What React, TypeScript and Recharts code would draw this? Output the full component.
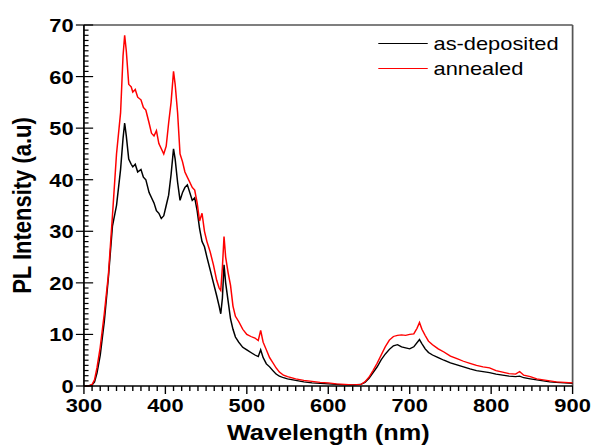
import { LineChart, Line, XAxis, YAxis, Legend, ReferenceLine } from 'recharts';

// PL spectra (nm, a.u.)
const wavelength = [
  300, 305, 310, 313, 316, 320, 325, 330, 335, 340, 345, 348, 350, 352, 355, 358, 360, 363, 366, 370,
  373, 376, 380, 383, 386, 389, 392, 395, 398, 401, 404, 407, 410, 412, 415, 418, 421, 424, 427, 430,
  433, 436, 439, 442, 445, 448, 451, 455, 459, 463, 466, 468, 470, 472, 474, 477, 480, 483, 486, 490,
  495, 500, 505, 510, 514, 517, 520, 524, 528, 532, 536, 540, 545, 550, 560, 570, 580, 590, 600, 610,
  620, 630, 640, 645, 650, 655, 660, 665, 670, 675, 680, 685, 690, 695, 700, 705, 709, 712, 715, 719,
  723, 728, 735, 742, 750, 758, 766, 774, 782, 790, 798, 806, 814, 822, 830, 835, 840, 848, 856, 864,
  872, 880, 890, 900,
];

const asDeposited = [
  0, 0, 0.2, 0.8, 2.5, 6, 12.5, 21, 31, 35, 42, 48, 51, 48.5, 44, 43, 42.5, 43, 41.5, 42,
  40.5, 40, 37.5, 36.5, 35.5, 34, 33.5, 32.5, 33, 35, 37, 41, 46, 44, 39.5, 36, 37.5, 38.5, 39, 37.5,
  36, 36.5, 34, 30.5, 28, 27, 25, 22.5, 20, 17.5, 15.5, 14, 17, 23.5, 20, 16.5, 13, 11, 9.5, 8.5,
  7.5, 7, 6.5, 6, 5.7, 7, 5.5, 4.3, 3.7, 3, 2.3, 1.9, 1.6, 1.4, 1.1, 0.8, 0.6, 0.5, 0.4, 0.3,
  0.2, 0.2, 0.3, 0.7, 1.5, 2.6, 3.7, 5.1, 6.2, 7.1, 7.8, 8, 7.6, 7.4, 7.2, 7.6, 8.4, 9, 8.2, 7.2,
  6.5, 6, 5.5, 5, 4.5, 4.1, 3.7, 3.3, 3, 2.8, 2.6, 2.3, 2.1, 1.9, 1.8, 1.9, 1.6, 1.4, 1.2, 1,
  0.8, 0.7, 0.6, 0.5,
];

const annealed = [
  0, 0, 0.3, 1.2, 3.5, 7.5, 14, 21.5, 33, 45, 53, 64, 68, 65, 58.5, 58, 57, 57.5, 56, 55.5,
  54, 53.5, 51, 49, 48.5, 49.5, 47, 46, 45, 46.5, 51, 55, 61, 58.5, 53, 45, 43.5, 41.5, 40.5, 39.5,
  38.5, 38, 35.5, 32, 33.5, 30, 28, 26, 23.5, 20.5, 19, 18.5, 23, 29, 25, 22, 19.5, 15.5, 13.5, 12.5,
  11, 10, 9.6, 9.3, 8.8, 10.8, 8.5, 7, 5.5, 4.5, 3.5, 2.7, 2.1, 1.8, 1.4, 1.1, 0.9, 0.7, 0.6, 0.4,
  0.3, 0.2, 0.3, 0.8, 1.7, 3, 4.4, 6, 7.6, 8.9, 9.6, 9.8, 9.9, 9.8, 10, 10.1, 11.2, 12.3, 11, 9.8,
  8.7, 8, 7.2, 6.6, 5.8, 5.3, 4.8, 4.4, 4, 3.7, 3.5, 3, 2.7, 2.4, 2.3, 2.8, 2.1, 1.8, 1.4, 1.2,
  1, 0.8, 0.7, 0.6,
];

const seriesNames = ['as-deposited', 'annealed'];
const xMajor = [300, 400, 500, 600, 700, 800, 900];
const yMajor = [0, 10, 20, 30, 40, 50, 60, 70];
const xTicks = Array.from({ length: 61 }, (_, i) => 300 + i * 10);
const yTicks = Array.from({ length: 71 }, (_, i) => i);

const data = wavelength.map((wl, i) => ({
  wl,
  asDeposited: asDeposited[i],
  annealed: annealed[i],
}));

const font = 'Arial, "Liberation Sans", sans-serif';

const XTick = ({ x, y, payload }: any) => {
  const major = xMajor.includes(payload.value);
  return (
    <g>
      <line x1={x} x2={x} y1={y} y2={y + (major ? 8 : 5)} stroke="#000" strokeWidth={1.2} />
      {major && (
        <text x={x} y={y + 26} textAnchor="middle" fontFamily={font} fontWeight="bold" fontSize={19} fill="#000">
          {payload.value}
        </text>
      )}
    </g>
  );
};

const YTick = ({ x, y, payload }: any) => {
  const major = yMajor.includes(payload.value);
  return (
    <g>
      <line x1={major ? x - 7 : x} x2={major ? x + 8 : x + 4} y1={y} y2={y} stroke="#000" strokeWidth={1.2} />
      {major && (
        <text x={x - 9} y={y + 7} textAnchor="end" fontFamily={font} fontWeight="bold" fontSize={19} fill="#000">
          {payload.value}
        </text>
      )}
    </g>
  );
};

const renderLegend = ({ payload }: any) => {
  const items = [...(payload || [])].sort(
    (a: any, b: any) => seriesNames.indexOf(a.value) - seriesNames.indexOf(b.value)
  );
  return (
    <div>
      {items.map((p: any) => (
        <div key={p.value} style={{ display: 'flex', alignItems: 'center', height: 25 }}>
          <span style={{ display: 'inline-block', width: 43, borderTop: `1.3px solid ${p.color}`, marginRight: 5 }} />
          <span style={{ fontFamily: font, fontSize: 19, color: '#000' }}>{p.value}</span>
        </div>
      ))}
    </div>
  );
};

export default function App() {
  return (
    <div style={{ position: 'absolute', left: 0, top: 0, transform: `scaleX(${591 / 514})`, transformOrigin: '0 0' }}>
      <LineChart width={514} height={446} data={data} margin={{ top: 25, right: 16, bottom: 0, left: 0 }}>
        <XAxis
          dataKey="wl"
          type="number"
          domain={[300, 900]}
          ticks={xTicks}
          interval={0}
          height={60}
          tickLine={false}
          tickSize={0}
          tickMargin={0}
          tick={XTick}
          axisLine={{ stroke: '#000', strokeWidth: 1.5 }}
          label={{
            value: 'Wavelength (nm)',
            position: 'insideBottom',
            offset: 6,
            style: { fontFamily: font, fontWeight: 'bold', fontSize: 22, fill: '#000' },
          }}
        />
        <YAxis
          type="number"
          domain={[0, 70]}
          ticks={yTicks}
          interval={0}
          width={73}
          tickLine={false}
          tickSize={0}
          tickMargin={0}
          tick={YTick}
          axisLine={{ stroke: '#000', strokeWidth: 1.5 }}
          label={{
            value: 'PL Intensity (a.u)',
            angle: -90,
            position: 'insideLeft',
            offset: 19,
            style: { textAnchor: 'middle', fontFamily: font, fontWeight: 'bold', fontSize: 22, fill: '#000' },
          }}
        />
        <ReferenceLine y={70} stroke="#555" strokeWidth={1.5} />
        <ReferenceLine x={900} stroke="#555" strokeWidth={1.5} />
        <Legend
          layout="horizontal"
          verticalAlign="middle"
          align="center"
          content={renderLegend}
          wrapperStyle={{ left: 329, top: 31, width: 180 }}
        />
        <Line
          type="linear"
          dataKey="asDeposited"
          name="as-deposited"
          stroke="#000"
          strokeWidth={1.3}
          dot={false}
          isAnimationActive={false}
        />
        <Line
          type="linear"
          dataKey="annealed"
          name="annealed"
          stroke="#ff0000"
          strokeWidth={1.3}
          dot={false}
          isAnimationActive={false}
        />
      </LineChart>
    </div>
  );
}
